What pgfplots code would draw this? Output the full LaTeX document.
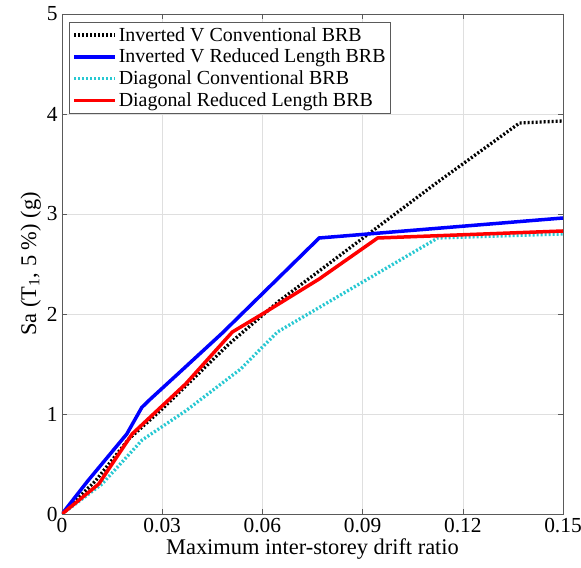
\documentclass[border=0pt]{standalone}
\usepackage{pgfplots}
\pgfplotsset{compat=1.18}
\usepackage{fontspec}
\setmainfont{Liberation Serif}
\definecolor{axgray}{RGB}{90,90,90}
\definecolor{mcyan}{RGB}{40,200,210}
\begin{document}
\begin{tikzpicture}
\pgfplotsset{every axis plot/.append style={legend image code/.code={\draw[##1] (0bp,0bp) -- (41bp,0bp);}}}
\begin{axis}[
  name=ax,
  scale only axis,
  width=501bp, height=500bp,
  xmin=0, xmax=0.15, ymin=0, ymax=5,
  xtick={0,0.03,0.06,0.09,0.12,0.15},
  xticklabels={0,0.03,0.06,0.09,0.12,0.15},
  ytick={0,1,2,3,4,5},
  /pgf/number format/assume math mode=true,
  tick align=inside,
  major tick length=5bp,
  tick style={axgray, line width=0.6bp},
  axis line style={axgray, line width=0.8bp},
  grid=major,
  grid style={gray!25, line width=0.5bp},
  xtick pos=both, ytick pos=both,
  tick label style={font=\fontsize{21.5}{26}\selectfont},
  label style={font=\fontsize{22.5}{27}\selectfont},
  xlabel={Maximum inter-storey drift ratio},
  ylabel={Sa (T\textsubscript{1}, 5 \%) (g)},
  xlabel style={yshift=1bp},
  ylabel style={yshift=-1bp},
  xticklabel style={yshift=-1bp},
  yticklabel style={xshift=-1bp},
  legend style={at={(0.014,0.984)}, anchor=north west, draw=axgray, line width=0.6bp,
    font=\fontsize{20}{24}\selectfont, inner xsep=3bp, inner ysep=3bp,
    row sep=2.5bp, cells={anchor=west}},
]
\addplot[black, line width=3.3bp, dash pattern=on 2bp off 2bp] coordinates {
(0,0) (0.01,0.33) (0.02,0.75) (0.03,1.05) (0.05,1.70) (0.065,2.13) (0.1125,3.32) (0.137,3.91) (0.15,3.93)};
\addlegendentry{Inverted V Conventional BRB}
\addplot[blue, line width=3.5bp] coordinates {
(0,0) (0.0077,0.33) (0.0194,0.80) (0.0239,1.066) (0.0265,1.15) (0.035,1.41) (0.048,1.81) (0.077,2.76) (0.15,2.96)};
\addlegendentry{Inverted V Reduced Length BRB}
\addplot[mcyan, line width=3.3bp, dash pattern=on 2bp off 2bp] coordinates {
(0,0) (0.012,0.30) (0.024,0.74) (0.037,1.03) (0.0535,1.45) (0.0645,1.82) (0.1125,2.76) (0.15,2.80)};
\addlegendentry{Diagonal Conventional BRB}
\addplot[red, line width=3.5bp] coordinates {
(0,0) (0.011,0.30) (0.021,0.80) (0.037,1.30) (0.051,1.82) (0.06,2.00) (0.077,2.35) (0.0945,2.76) (0.15,2.83)};
\addlegendentry{Diagonal Reduced Length BRB}
\end{axis}
\pgfresetboundingbox
\path[use as bounding box] ([shift={(-62bp,-54bp)}]ax.south west) rectangle ([shift={(18bp,14bp)}]ax.north east);
\end{tikzpicture}
\end{document}
